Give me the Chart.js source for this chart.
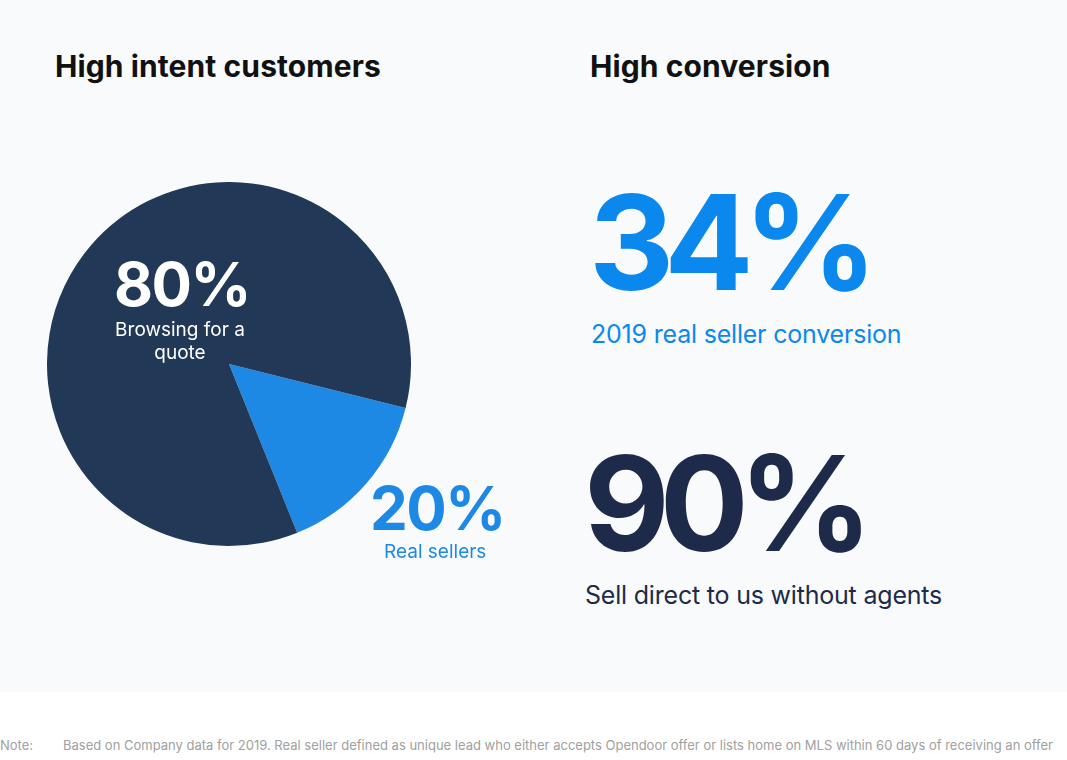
<!DOCTYPE html>
<html>
<head>
<meta charset="utf-8">
<script src="https://cdn.jsdelivr.net/npm/chart.js@4/dist/chart.umd.min.js"></script>
<style>
  body { margin: 0; width: 1067px; height: 760px; background: #ffffff; font-family: Inter, "Noto Sans", sans-serif; overflow: hidden; position: relative; }
  #panel { position: absolute; left: 0; top: 0; width: 1067px; height: 692px; background: #f8fafc; }
  .abs { position: absolute; white-space: nowrap; line-height: 1; }
  .title { font-size: 30px; font-weight: 700; color: #111111; letter-spacing: 0.1px; }
  .big { font-size: 132px; font-weight: 700; letter-spacing: -10px; line-height: 102px; }
  .sub { font-size: 25px; font-weight: 400; letter-spacing: -0.2px; }
  .pct { font-size: 60px; font-weight: 700; letter-spacing: -1.5px; line-height: 44px; }
  #pieBox { position: absolute; left: 47px; top: 182px; width: 364px; height: 364px; }
</style>
</head>
<body>
<div id="panel"></div>
<div class="abs title" style="left:55px; top:51px;">High intent customers</div>
<div class="abs title" style="left:590px; top:51px;">High conversion</div>

<div id="pieBox"><canvas id="Chart" width="364" height="364"></canvas></div>

<div class="abs pct" style="left:114px; top:262px; color:#ffffff;">80%</div>
<div class="abs" style="left:100px; top:318px; width:160px; text-align:center; font-size:19px; color:#ffffff; white-space:normal; line-height:23px;">Browsing for a quote</div>
<div class="abs pct" style="left:370px; top:486px; color:#1e88e5;">20%</div>
<div class="abs" style="left:384px; top:542px; font-size:19px; line-height:19px; color:#1e88e5;">Real sellers</div>

<div class="abs big" style="left:589px; top:191px; color:#0a88ee;">34%</div>
<div class="abs sub" style="left:591px; top:322px; color:#0a88ee;">2019 real seller conversion</div>
<div class="abs big" style="left:584px; top:452px; color:#1e2a4a;">90%</div>
<div class="abs sub" style="left:585px; top:583px; color:#1e2a4a;">Sell direct to us without agents</div>

<div class="abs" style="left:0px; top:739px; font-size:13px; color:#a0a0a0;">Note:</div>
<div class="abs" style="left:63px; top:739px; font-size:13px; color:#a0a0a0;">Based on Company data for 2019. Real seller defined as unique lead who either accepts Opendoor offer or lists home on MLS within 60 days of receiving an offer</div>

<script>
// slice shares as drawn in the picture (blue slice, dark slice)
var sliceLabels = ["Real sellers", "Browsing for a quote"];
var sliceValues = [15, 85];
var sliceColors = ["#1e88e5", "#213856"];

new Chart("Chart", {
    type: "pie",
    data: {
        labels: sliceLabels,
        datasets: [{
            data: sliceValues,
            backgroundColor: sliceColors,
            borderWidth: 0
        }]
    },
    options: {
        responsive: false,
        animation: false,
        rotation: 104,
        layout: { padding: 0 },
        plugins: {
            legend: { display: false },
            tooltip: { enabled: false }
        }
    }
});
</script>
</body>
</html>
